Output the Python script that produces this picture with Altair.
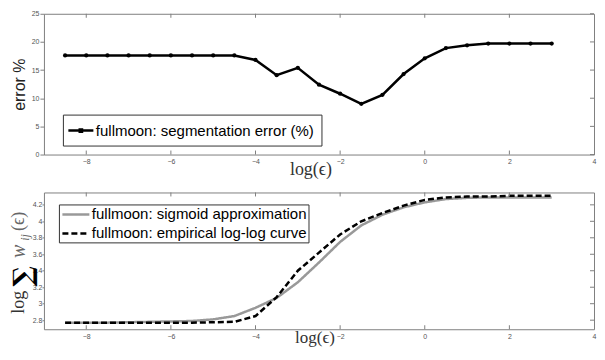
import altair as alt
import pandas as pd

# ---------------- data ----------------
log_eps = [-8.5, -8, -7.5, -7, -6.5, -6, -5.5, -5, -4.5, -4, -3.5, -3,
           -2.5, -2, -1.5, -1, -0.5, 0, 0.5, 1, 1.5, 2, 2.5, 3]
seg_error = [17.6, 17.6, 17.6, 17.6, 17.6, 17.6, 17.6, 17.6, 17.6, 16.8, 14.1, 15.4,
             12.4, 10.8, 9.0, 10.6, 14.3, 17.1, 18.9, 19.4, 19.7, 19.7, 19.7, 19.7]
sigmoid = [2.77, 2.77, 2.77, 2.775, 2.78, 2.785, 2.79, 2.81, 2.85, 2.95, 3.07, 3.26,
           3.50, 3.75, 3.95, 4.08, 4.17, 4.23, 4.27, 4.285, 4.29, 4.29, 4.29, 4.29]
empirical = [2.77, 2.77, 2.77, 2.77, 2.77, 2.77, 2.77, 2.775, 2.78, 2.85, 3.08, 3.40,
             3.62, 3.84, 4.00, 4.10, 4.19, 4.26, 4.29, 4.30, 4.30, 4.31, 4.31, 4.31]

x_ticks = [-8, -6, -4, -2, 0, 2, 4]
top_y_ticks = [0, 5, 10, 15, 20, 25]
bot_y_ticks = [2.8, 3, 3.2, 3.4, 3.6, 3.8, 4, 4.2]

top_label = "fullmoon: segmentation error (%)"
sig_label = "fullmoon: sigmoid approximation"
emp_label = "fullmoon: empirical log-log curve"

# ---------------- style ----------------
W, H1, H2 = 551, 141, 137
SANS = "Liberation Sans"
SERIF = "Liberation Serif"
BOX = "#808080"
LBL = "#555555"

xscale = alt.Scale(domain=[-9, 4], nice=False, zero=False)
top_yscale = alt.Scale(domain=[0, 25], nice=False, zero=False)
bot_yscale = alt.Scale(domain=[2.69, 4.35], nice=False, zero=False)


def x_axis(title_x, title_pad, title_size):
    return alt.Axis(values=x_ticks, ticks=False, domain=False, grid=False,
                    labelFont=SANS, labelFontSize=7, labelColor=LBL, labelPadding=3,
                    labelFlush=False, title="log(ϵ)", titleFont=SERIF,
                    titleFontSize=title_size, titleFontWeight="normal", titleColor="#333",
                    titlePadding=title_pad, titleX=title_x, titleAlign="center")


top_xaxis = x_axis(267, -4, 18)
bot_xaxis = x_axis(271, -10, 17)
top_yaxis = alt.Axis(values=top_y_ticks, grid=False, domain=False, tickSize=4,
                     tickColor=BOX, labelFont=SANS, labelFontSize=7, labelColor=LBL,
                     labelPadding=1, title="error %", titleFont=SANS, titleFontSize=16,
                     titleFontWeight="normal", titleColor="#222", titlePadding=4)
bot_yaxis = alt.Axis(values=bot_y_ticks, format="~g", grid=False, domain=False,
                     tickSize=2, tickColor=BOX, labelFont=SANS, labelFontSize=7,
                     labelColor=LBL, labelPadding=0, title=None)


def inner_ticks(yscale, yticks, h, xaxis, yaxis):
    tdx = pd.DataFrame({"x": x_ticks[:-1]})
    tdy = pd.DataFrame({"y": yticks})
    bot = alt.Chart(tdx).mark_rule(color=BOX, strokeWidth=1).encode(
        x=alt.X("x:Q", scale=xscale, axis=xaxis), y=alt.value(h), y2=alt.value(h - 4))
    top = alt.Chart(tdx).mark_rule(color=BOX, strokeWidth=1).encode(
        x=alt.X("x:Q", scale=xscale, axis=xaxis), y=alt.value(0), y2=alt.value(4))
    right = alt.Chart(tdy).mark_rule(color=BOX, strokeWidth=1).encode(
        y=alt.Y("y:Q", scale=yscale, axis=yaxis), x=alt.value(W), x2=alt.value(W - 4))
    return [bot, top, right]


# ---------------- top panel ----------------
top_df = pd.DataFrame({"x": log_eps, "y": seg_error, "series": [top_label] * len(log_eps)})

top_line = alt.Chart(top_df).mark_line(
    strokeWidth=2.5,
    point=alt.OverlayMarkDef(filled=True, size=18, color="black")
).encode(
    x=alt.X("x:Q", scale=xscale, axis=top_xaxis),
    y=alt.Y("y:Q", scale=top_yscale, axis=top_yaxis),
    color=alt.Color("series:N", scale=alt.Scale(domain=[top_label], range=["black"]),
                    legend=alt.Legend(orient="none", legendX=19, legendY=101, title=None,
                                      labelFont=SANS, labelFontSize=15, labelColor="black",
                                      labelLimit=0, labelOffset=6,
                                      symbolType="M-1.67,0H1.67M-0.15,-0.15H0.15V0.15H-0.15Z",
                                      symbolSize=225, symbolOffset=2,
                                      symbolStrokeWidth=2.5,
                                      strokeColor="#333", fillColor="white", padding=7)),
)

top_chart = alt.layer(
    top_line, *inner_ticks(top_yscale, top_y_ticks, H1, top_xaxis, top_yaxis)
).properties(width=W, height=H1)

# ---------------- bottom panel ----------------
n = len(log_eps)
bot_df = pd.DataFrame({
    "x": log_eps + log_eps,
    "y": sigmoid + empirical,
    "curve": [sig_label] * n + [emp_label] * n,
})

bot_legend = alt.Legend(orient="none", legendX=15, legendY=12, title=None,
                        labelFont=SANS, labelFontSize=15, labelColor="black",
                        labelLimit=0, labelOffset=7, rowPadding=2,
                        symbolType="M-1.8,0H1.8", symbolSize=225, symbolOffset=7,
                        symbolStrokeWidth=2.5,
                        strokeColor="#333", fillColor="white", padding=1)

bot_lines = alt.Chart(bot_df).mark_line(strokeWidth=2.5).encode(
    x=alt.X("x:Q", scale=xscale, axis=bot_xaxis),
    y=alt.Y("y:Q", scale=bot_yscale, axis=bot_yaxis),
    color=alt.Color("curve:N", scale=alt.Scale(domain=[sig_label, emp_label],
                                               range=["#999999", "black"]),
                    legend=bot_legend),
    strokeDash=alt.StrokeDash("curve:N", scale=alt.Scale(domain=[sig_label, emp_label],
                                                         range=[[1, 0], [6, 3]]),
                              legend=bot_legend),
)

# rotated y-axis title pieces: log ∑ w_ij(ϵ)
title_pieces = [
    ("log", SERIF, 18, "normal", "normal", "#333", -25, 110),
    ("∑", "DejaVu Serif", 27, "bold", "normal", "black", -20, 84),
    ("w", SERIF, 20, "normal", "italic", "#666", -25, 59),
    ("ij", SERIF, 12, "normal", "italic", "#666", -19, 45),
    ("(ϵ)", SERIF, 18, "normal", "normal", "#666", -25, 29),
]
title_layers = []
for txt, fnt, fs, fw, fst, col, px, py in title_pieces:
    title_layers.append(
        alt.Chart(pd.DataFrame({"s": [txt]})).mark_text(
            font=fnt, fontSize=fs, fontWeight=fw, fontStyle=fst, color=col,
            angle=270, align="center", baseline="middle"
        ).encode(text="s:N", x=alt.value(px), y=alt.value(py))
    )

bot_chart = alt.layer(
    bot_lines, *inner_ticks(bot_yscale, bot_y_ticks, H2, bot_xaxis, bot_yaxis),
    *title_layers
).properties(width=W, height=H2)

chart = alt.vconcat(top_chart, bot_chart, spacing=10).resolve_scale(
    color="independent", strokeDash="independent"
).resolve_legend(color="independent", strokeDash="independent").properties(
    padding={"left": 0, "top": 0.5, "right": 0, "bottom": 0},
    background="white",
).configure_view(stroke=BOX, strokeWidth=1)

chart.save("out.html", embed_options={"renderer": "svg", "actions": False})
